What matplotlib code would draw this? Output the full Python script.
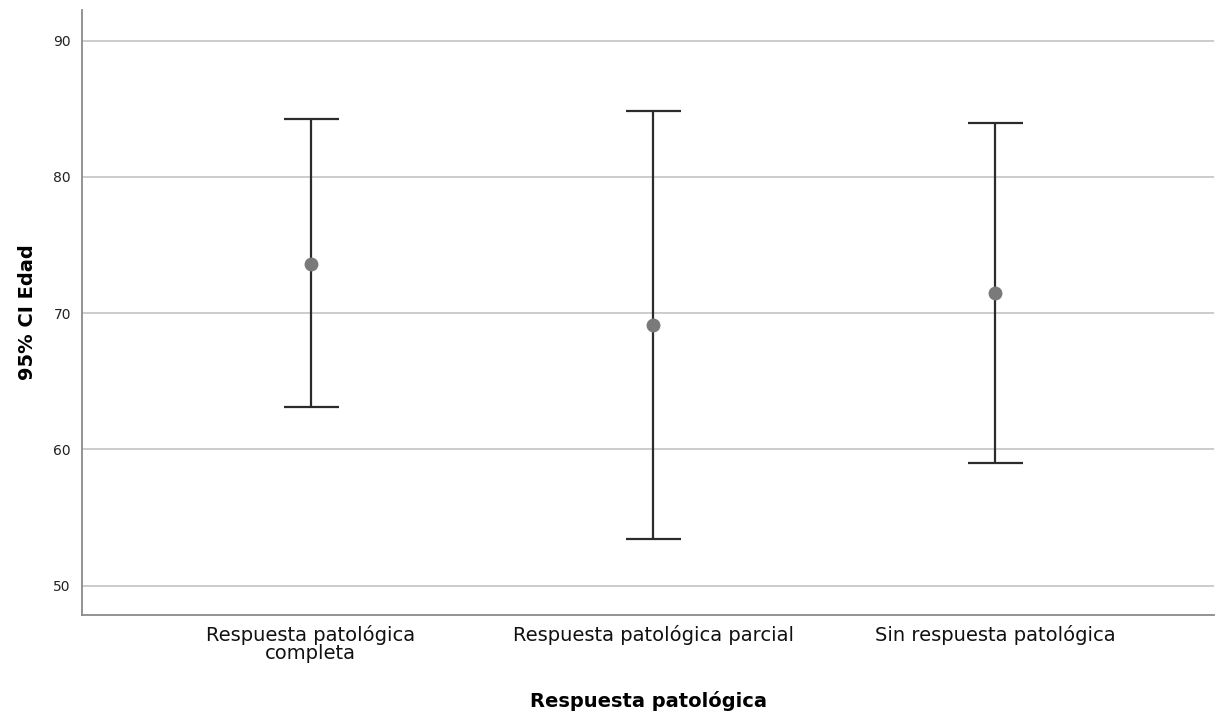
import matplotlib.pyplot as plt
import numpy as np

# group labels and 95% CI values for Edad
categories = ['Respuesta patológica\ncompleta',
              'Respuesta patológica parcial',
              'Sin respuesta patológica']
means = [73.64, 69.14, 71.51]
lower = [63.09, 53.43, 58.99]
upper = [84.23, 84.83, 83.93]
y_ticks = [50, 60, 70, 80, 90]

plt.rcParams['font.family'] = ['DejaVu Sans']

fig = plt.figure(figsize=(12.24, 7.21), dpi=100)
ax = fig.add_axes([0.067, 0.147, 0.925, 0.839])

x = np.arange(len(categories))
means_arr = np.array(means)
yerr = [means_arr - np.array(lower), np.array(upper) - means_arr]

ax.errorbar(x, means, yerr=yerr, fmt='none', ecolor='#2b2b2b',
            elinewidth=1.6, capsize=19.8, capthick=1.6, zorder=3)
ax.plot(x, means, 'o', color='#7a7a7a', markersize=9, zorder=4)

ax.set_xlim(-0.668, 2.639)
ax.set_ylim(47.85, 92.24)
ax.set_yticks(y_ticks)
ax.set_xticks(x)
ax.set_xticklabels(categories, fontsize=14, linespacing=0.98)
ax.tick_params(axis='x', length=0, pad=7, colors='#111111')
ax.tick_params(axis='y', length=0, pad=8, labelsize=10, colors='#222222')

ax.yaxis.grid(True, color='#c8c8c8', linewidth=1.3)
ax.set_axisbelow(True)

for side in ['top', 'right']:
    ax.spines[side].set_visible(False)
for side in ['left', 'bottom']:
    ax.spines[side].set_color('#8a8a8a')
    ax.spines[side].set_linewidth(1.3)

ax.set_xlabel('Respuesta patológica', fontsize=14, fontweight='bold', labelpad=20)
ax.set_ylabel('95% CI Edad', fontsize=14, fontweight='bold', labelpad=12)

fig.savefig('out.png', dpi=100)
